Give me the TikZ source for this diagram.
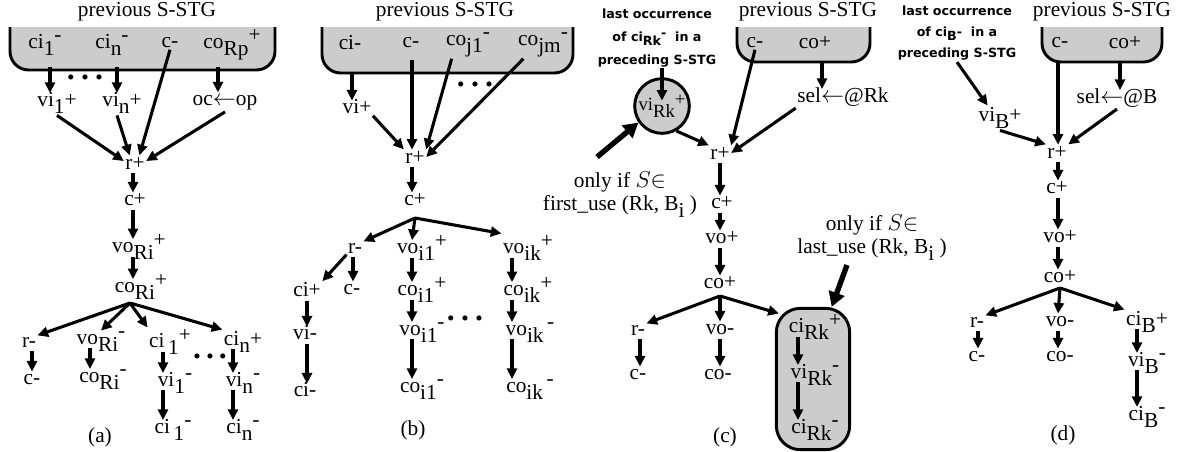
\documentclass[tikz,border=0pt]{standalone}
\usepackage{fontspec}
\setmainfont{Liberation Serif}
\newfontfamily\notefont{DejaVu Sans}
\usepackage{tikz}
\usetikzlibrary{arrows.meta,positioning}

\newcommand{\lo}[1]{\raisebox{-0.35em}{#1}}
\newcommand{\hi}[1]{\raisebox{0.3em}{#1}}

\tikzset{
	ev/.style={inner sep=1pt, font=\fontsize{16}{17}\selectfont},
	arr/.style={-{Triangle[length=8pt,width=7.5pt]}, line width=2.3pt},
	fat/.style={-{Triangle[length=11pt,width=12pt]}, line width=4pt},
	prevbox/.style={draw, line width=2.2pt, fill=gray!40, rounded corners=14pt},
	notetext/.style={align=center, inner sep=1pt, font=\notefont\bfseries\fontsize{9.5}{17}\selectfont},
	dotrow/.style={inner sep=0pt, font=\fontsize{16}{16}\selectfont},
}

\begin{document}
\begin{tikzpicture}[x=0.75pt, y=-0.75pt]
	\useasboundingbox (0,0) rectangle (1184,451);

	% (a)
	\node[ev] (prevA) at (147,12) {previous S-STG};
	\draw[prevbox] (10,27) -- (10,70) -- (275,70) -- (275,27);
	\node[ev] (ci1A) at (45,45) {ci\lo{1}\hi{-}};
	\node[ev] (cinA) at (112,45) {ci\lo{n}\hi{-}};
	\node[ev] (cA) at (170,43) {c-};
	\node[ev] (coA) at (232,45) {co\lo{Rp}\hi{+}};
	\node[dotrow] (dotsA) at (85,80) {\textbullet\hspace{5pt}\textbullet\hspace{5pt}\textbullet};
	\node[ev] (vi1A) at (57,103) {vi\lo{1}+};
	\node[ev] (vinA) at (122,103) {vi\lo{n}+};
	\node[ev] (ocA) at (225,103) {oc$\leftarrow$op};
	\node[ev] (rA) at (135,163) {r+};
	\node[ev] (cpA) at (135,200) {c+};
	\node[ev] (voA) at (139,247) {vo\lo{Ri}\hi{+}};
	\node[ev] (coRiA) at (141,287) {co\lo{Ri}\hi{+}};
	\coordinate (brA) at (130,303);
	\node[ev] (rmA) at (29,342) {r-};
	\node[ev] (vomA) at (101,342) {vo\lo{Ri}\hi{-}};
	\node[ev] (ci1pA) at (170,342) {ci\,\lo{1}\hi{+}};
	\node[ev] (cinpA) at (243,342) {ci\lo{n}+};
	\node[dotrow] (dotsA2) at (210,359) {\textbullet\hspace{4pt}\textbullet\hspace{4pt}\textbullet};
	\node[ev] (cmA) at (32,380) {c-};
	\node[ev] (comA) at (103,380) {co\lo{Ri}\hi{-}};
	\node[ev] (vi1mA) at (175,383) {vi\lo{1}\hi{-}};
	\node[ev] (vinmA) at (243,383) {vi\lo{n}\hi{-}};
	\node[ev] (ci1mA) at (173,430) {ci\,\lo{1}\hi{-}};
	\node[ev] (cinmA) at (243,430) {ci\lo{n}\hi{-}};
	\node[ev] (labA) at (100,437) {(a)};

	\coordinate (xA1) at (50,0);
	\coordinate (xAn) at (117,0);
	\coordinate (xAo) at (218,0);
	\coordinate (xAr) at (133,0);
	\coordinate (xAc) at (32,0);
	\coordinate (xAv) at (90,0);
	\coordinate (xA1b) at (163,0);
	\coordinate (xAnb) at (233,0);

	\draw[arr] ([yshift=-14pt]ci1A.base -| xA1) -- ([yshift=10pt]vi1A.base -| xA1);
	\draw[arr] ([yshift=-14pt]cinA.base -| xAn) -- ([yshift=10pt]vinA.base -| xAn);
	\draw[arr] ([yshift=-14pt]coA.base -| xAo) -- ([yshift=10pt]ocA.base -| xAo);
	\draw[arr] (vi1A.south) -- (rA.170);
	\draw[arr] (vinA.south -| xAn) -- (rA.125);
	\draw[arr] (cA.south) -- (rA.60);
	\draw[arr] (ocA.south) -- (rA.10);
	\draw[arr] ([yshift=-3pt]rA.base -| xAr) -- ([yshift=10pt]cpA.base -| xAr);
	\draw[arr] ([yshift=-3pt]cpA.base -| xAr) -- ([yshift=10pt]voA.base -| xAr);
	\draw[arr] ([yshift=-3pt]voA.base -| xAr) -- ([yshift=10pt]coRiA.base -| xAr);
	\draw[arr] (brA) -- (rmA.north east);
	\draw[arr] (brA) -- (vomA.north);
	\draw[arr] (brA) -- (ci1pA.north west);
	\draw[arr] (brA) -- (cinpA.north west);
	\draw[arr] ([yshift=-3pt]rmA.base -| xAc) -- ([yshift=10pt]cmA.base -| xAc);
	\draw[arr] ([yshift=-3pt]vomA.base -| xAv) -- ([yshift=10pt]comA.base -| xAv);
	\draw[arr] ([yshift=-3pt]ci1pA.base -| xA1b) -- ([yshift=10pt]vi1mA.base -| xA1b);
	\draw[arr] ([yshift=-3pt]vi1mA.base -| xA1b) -- ([yshift=10pt]ci1mA.base -| xA1b);
	\draw[arr] ([yshift=-3pt]cinpA.base -| xAnb) -- ([yshift=10pt]vinmA.base -| xAnb);
	\draw[arr] ([yshift=-3pt]vinmA.base -| xAnb) -- ([yshift=10pt]cinmA.base -| xAnb);

	% (b)
	\node[ev] (prevB) at (445,12) {previous S-STG};
	\draw[prevbox] (322,27) -- (322,73) -- (573,73) -- (573,27);
	\node[ev] (ciB) at (350,43) {ci-};
	\node[ev] (cB) at (411,43) {c-};
	\node[ev] (coj1B) at (468,45) {co\lo{j1}\hi{-}};
	\node[ev] (cojmB) at (543,45) {co\lo{jm}\hi{-}};
	\node[dotrow] (dotsB) at (475,87) {\textbullet\hspace{5pt}\textbullet\hspace{5pt}\textbullet};
	\node[ev] (viB) at (357,107) {vi+};
	\node[ev] (rB) at (415,157) {r+};
	\node[ev] (cpB) at (415,200) {c+};
	\coordinate (brB) at (415,218);
	\node[ev] (rmB) at (355,248) {r-};
	\node[ev] (vo1pB) at (422,248) {vo\lo{i1}\hi{+}};
	\node[ev] (vokpB) at (528,248) {vo\lo{ik}\hi{+}};
	\node[ev] (cipB) at (307,290) {ci+};
	\node[ev] (cmB) at (352,290) {c-};
	\node[ev] (co1pB) at (422,290) {co\lo{i1}\hi{+}};
	\node[ev] (cokpB) at (528,290) {co\lo{ik}\hi{+}};
	\node[ev] (vimB) at (305,333) {vi-};
	\node[ev] (vo1mB) at (422,333) {vo\lo{i1}\hi{-}};
	\node[dotrow] (dotsB2) at (465,321) {\textbullet\hspace{5pt}\textbullet\hspace{5pt}\textbullet};
	\node[ev] (vokmB) at (530,333) {vo\lo{ik}\,\hi{-}};
	\node[ev] (cimB) at (305,390) {ci-};
	\node[ev] (co1mB) at (422,390) {co\lo{i1}\hi{-}};
	\node[ev] (cokmB) at (530,390) {co\lo{ik}\,\hi{-}};
	\node[ev] (labB) at (413,430) {(b)};

	\coordinate (xBci) at (352,0);
	\coordinate (xBr) at (412,0);
	\coordinate (xBc) at (353,0);
	\coordinate (xBvi) at (307,0);
	\coordinate (xBk) at (512,0);

	\draw[arr] ([yshift=-18pt]ciB.base -| xBci) -- ([yshift=10pt]viB.base -| xBci);
	\draw[arr] (viB.south east) -- (rB.north west);
	\draw[arr] ([yshift=-9pt]cB.base -| xBr) -- ([yshift=10pt]rB.base -| xBr);
	\draw[arr] (coj1B.220) -- (rB.north east);
	\draw[arr] (cojmB.215) -- (rB.east);
	\draw[arr] ([yshift=-3pt]rB.base -| xBr) -- ([yshift=10pt]cpB.base -| xBr);
	\draw[arr] (brB) -- (rmB.north east);
	\draw[arr] (brB) -- ([yshift=10pt]vo1pB.base -| xBr);
	\draw[arr] (brB) -- (vokpB.north west);
	\draw[arr] (rmB.south west) -- (cipB.north east);
	\draw[arr] ([yshift=-3pt]rmB.base -| xBc) -- ([yshift=10pt]cmB.base -| xBc);
	\draw[arr] ([yshift=-3pt]cipB.base -| xBvi) -- ([yshift=10pt]vimB.base -| xBvi);
	\draw[arr] ([yshift=-3pt]vimB.base -| xBvi) -- ([yshift=10pt]cimB.base -| xBvi);
	\draw[arr] ([yshift=-3pt]vo1pB.base -| xBr) -- ([yshift=10pt]co1pB.base -| xBr);
	\draw[arr] ([yshift=-3pt]co1pB.base -| xBr) -- ([yshift=10pt]vo1mB.base -| xBr);
	\draw[arr] ([yshift=-3pt]vo1mB.base -| xBr) -- ([yshift=10pt]co1mB.base -| xBr);
	\draw[arr] ([yshift=-3pt]vokpB.base -| xBk) -- ([yshift=10pt]cokpB.base -| xBk);
	\draw[arr] ([yshift=-3pt]cokpB.base -| xBk) -- ([yshift=10pt]vokmB.base -| xBk);
	\draw[arr] ([yshift=-3pt]vokmB.base -| xBk) -- ([yshift=10pt]cokmB.base -| xBk);

	% (c)
	\node[notetext] (lastC) at (657,38) {last occurrence\\of ci\lo{Rk}\hi{-}~ in a\\preceding S-STG};
	\node[draw, circle, line width=2.2pt, fill=gray!40, minimum size=41pt, inner sep=0pt, font=\fontsize{14}{15}\selectfont] (viRkC) at (662,106) {vi\lo{Rk}\hi{+}};
	\node[ev, align=center] (onlyC1) at (620,195) {only if $S{\in}$\\first\_use (Rk, B\lo{i} )};
	\coordinate (tailC1) at (597,157);
	\node[ev] (prevC) at (808,12) {previous S-STG};
	\draw[prevbox] (737,27) -- (737,62) -- (870,62) -- (870,27);
	\node[ev] (cC) at (755,43) {c-};
	\node[ev] (coC) at (815,43) {co+};
	\node[ev] (selC) at (843,97) {sel$\leftarrow$@Rk};
	\node[ev] (rC) at (720,153) {r+};
	\node[ev] (cpC) at (722,203) {c+};
	\node[ev] (vopC) at (722,238) {vo+};
	\node[ev] (copC) at (720,283) {co+};
	\coordinate (brC) at (720,296);
	\node[ev] (rmC) at (638,330) {r-};
	\node[ev] (vomC) at (720,330) {vo-};
	\node[ev] (cmC) at (638,375) {c-};
	\node[ev] (comC) at (718,375) {co-};
	\node[draw, line width=2.2pt, fill=gray!40, rounded corners=18pt, minimum width=55pt, minimum height=106pt] (rkC) at (813,379) {};
	\node[ev] (ciRkpC) at (815,327) {ci\lo{Rk}\hi{+}};
	\node[ev] (viRkmC) at (815,375) {vi\lo{Rk}\hi{-}};
	\node[ev] (ciRkmC) at (815,430) {ci\lo{Rk}\hi{-}};
	\node[ev] (labC) at (725,437) {(c)};
	\node[ev, align=center] (onlyC2) at (872,238) {only if $S{\in}$\\last\_use (Rk, B\lo{i} )};
	\coordinate (tailC2) at (847,265);

	\coordinate (xCk) at (798,0);
	\coordinate (xCco) at (822,0);
	\coordinate (xCr) at (720,0);
	\coordinate (xCc) at (640,0);

	\draw[arr] (lastC.south -| viRkC) -- ([yshift=4pt]viRkC.center);
	\draw[arr] (viRkC.-60) -- (rC.north west);
	\draw[fat] (tailC1) -- (viRkC.215);
	\draw[arr] (cC.south) -- (rC.north east);
	\draw[arr] ([yshift=-9pt]coC.base -| xCco) -- ([yshift=10pt]selC.base -| xCco);
	\draw[arr] (selC.south west) -- (rC.east);
	\draw[arr] ([yshift=-3pt]rC.base -| xCr) -- ([yshift=10pt]cpC.base -| xCr);
	\draw[arr] ([yshift=-3pt]cpC.base -| xCr) -- ([yshift=10pt]vopC.base -| xCr);
	\draw[arr] ([yshift=-3pt]vopC.base -| xCr) -- ([yshift=10pt]copC.base -| xCr);
	\draw[arr] (brC) -- (rmC.north east);
	\draw[arr] (brC) -- ([yshift=10pt]vomC.base -| xCr);
	\draw[arr] (brC) -- ([xshift=3pt,yshift=-5pt]rkC.north west);
	\draw[arr] ([yshift=-3pt]rmC.base -| xCc) -- ([yshift=10pt]cmC.base -| xCc);
	\draw[arr] ([yshift=-3pt]vomC.base -| xCr) -- ([yshift=10pt]comC.base -| xCr);
	\draw[arr] ([yshift=-3pt]ciRkpC.base -| xCk) -- ([yshift=10pt]viRkmC.base -| xCk);
	\draw[arr] ([yshift=-3pt]viRkmC.base -| xCk) -- ([yshift=10pt]ciRkmC.base -| xCk);
	\draw[fat] (tailC2) -- ([xshift=14pt]rkC.north);

	% (d)
	\node[notetext, font=\notefont\bfseries\fontsize{9.5}{16}\selectfont] (lastD) at (957,33) {last occurrence\\of ci\lo{B}-~ in a\\preceding S-STG};
	\node[ev] (prevD) at (1102,12) {previous S-STG};
	\draw[prevbox] (1042,27) -- (1042,62) -- (1162,62) -- (1162,27);
	\node[ev] (cD) at (1060,43) {c-};
	\node[ev] (coD) at (1125,43) {co+};
	\node[ev] (viBD) at (1000,118) {vi\lo{B}+};
	\node[ev] (selD) at (1117,98) {sel$\leftarrow$@B};
	\node[ev] (rD) at (1057,152) {r+};
	\node[ev] (cpD) at (1057,188) {c+};
	\node[ev] (vopD) at (1060,237) {vo+};
	\node[ev] (copD) at (1060,277) {co+};
	\coordinate (brD) at (1060,288);
	\node[ev] (rmD) at (977,322) {r-};
	\node[ev] (vomD) at (1060,322) {vo-};
	\node[ev] (ciBpD) at (1147,322) {ci\lo{B}+};
	\node[ev] (cmD) at (977,357) {c-};
	\node[ev] (comD) at (1060,357) {co-};
	\node[ev] (viBmD) at (1147,363) {vi\lo{B}\hi{-}};
	\node[ev] (ciBmD) at (1147,417) {ci\lo{B}\hi{-}};
	\node[ev] (labD) at (1063,435) {(d)};

	\coordinate (xDr) at (1058,0);
	\coordinate (xDco) at (1120,0);
	\coordinate (xDc) at (978,0);
	\coordinate (xDci) at (1137,0);

	\draw[arr] (lastD.south) -- ([xshift=8pt]viBD.north west);
	\draw[arr] (viBD.south) -- (rD.north west);
	\draw[arr] ([yshift=-10pt]cD.base -| xDr) -- ([yshift=10pt]rD.base -| xDr);
	\draw[arr] ([yshift=-10pt]coD.base -| xDco) -- ([yshift=10pt]selD.base -| xDco);
	\draw[arr] (selD.south) -- (rD.north east);
	\draw[arr] ([yshift=-3pt]rD.base -| xDr) -- ([yshift=10pt]cpD.base -| xDr);
	\draw[arr] ([yshift=-3pt]cpD.base -| xDr) -- ([yshift=10pt]vopD.base -| xDr);
	\draw[arr] ([yshift=-3pt]vopD.base -| xDr) -- ([yshift=10pt]copD.base -| xDr);
	\draw[arr] (brD) -- (rmD.north east);
	\draw[arr] (brD) -- ([yshift=10pt]vomD.base -| xDr);
	\draw[arr] (brD) -- (ciBpD.north west);
	\draw[arr] ([yshift=-3pt]rmD.base -| xDc) -- ([yshift=10pt]cmD.base -| xDc);
	\draw[arr] ([yshift=-3pt]vomD.base -| xDr) -- ([yshift=10pt]comD.base -| xDr);
	\draw[arr] ([yshift=-3pt]ciBpD.base -| xDci) -- ([yshift=10pt]viBmD.base -| xDci);
	\draw[arr] ([yshift=-3pt]viBmD.base -| xDci) -- ([yshift=10pt]ciBmD.base -| xDci);
\end{tikzpicture}
\end{document}
